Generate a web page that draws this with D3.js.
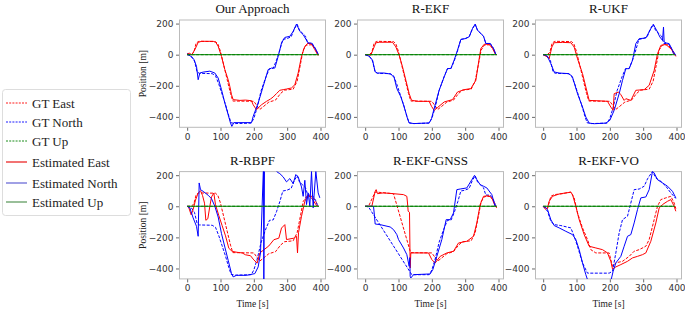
<!DOCTYPE html>
<html>
<head>
<meta charset="utf-8">
<script src="https://cdn.jsdelivr.net/npm/d3@7"></script>
<style>
  body { margin: 0; background: #fff; }
  svg { display: block; }
</style>
</head>
<body>
<div id="chart"></div>
<script>
// tick values and labels
var xTicks = [0, 100, 200, 300, 400];
var yTicks = [200, 0, -200, -400];
var panelTitles = ["Our Approach", "R-EKF", "R-UKF", "R-RBPF", "R-EKF-GNSS", "R-EKF-VO"];
var legendLabels = ["GT East", "GT North", "GT Up", "Estimated East", "Estimated North", "Estimated Up"];

// ground truth, [time s, position m]
var gtEast = [[0,0],[12,0],[20,15],[27,75],[35,86],[85,84],[92,70],[100,20],[110,-70],[120,-160],[130,-250],[137,-298],[200,-300],[210,-330],[218,-352],[228,-335],[245,-305],[265,-292],[280,-250],[292,-228],[318,-222],[330,-170],[340,-60],[348,30],[358,62],[375,64],[385,35],[393,0]];
var gtNorth = [[0,0],[12,-8],[22,-40],[30,-112],[37,-120],[75,-122],[85,-135],[95,-190],[105,-255],[115,-320],[125,-395],[132,-438],[145,-443],[192,-440],[200,-410],[210,-340],[222,-230],[237,-140],[247,-90],[258,-88],[268,-35],[278,30],[287,98],[300,104],[312,115],[322,168],[330,196],[337,157],[347,136],[355,119],[362,72],[375,72],[385,40],[392,0]];
var gtUp = [[0,0],[395,0]];
var estUp = [[0,0],[395,0]];

// Our Approach
var oursEast = [[0,6],[8,10],[13,-3],[23,32],[33,79],[43,86],[78,86],[86,79],[93,54],[103,-11],[113,-96],[123,-161],[128,-204],[133,-257],[138,-289],[158,-294],[175,-292],[193,-296],[198,-322],[208,-354],[213,-343],[223,-322],[238,-300],[250,-285],[258,-272],[268,-250],[278,-229],[288,-225],[298,-221],[313,-214],[323,-193],[333,-118],[343,-11],[353,54],[363,75],[373,69],[383,32],[393,-6]];
var oursNorth = [[0,6],[8,-5],[13,-15],[20,-30],[28,-75],[33,-161],[38,-118],[48,-112],[68,-106],[83,-118],[93,-150],[103,-225],[113,-311],[123,-386],[130,-440],[134,-461],[140,-437],[193,-437],[198,-397],[213,-311],[228,-204],[243,-96],[253,-86],[263,-86],[273,-11],[283,75],[293,111],[308,118],[318,150],[328,197],[338,150],[348,129],[363,75],[373,75],[383,43],[393,6]];

// R-EKF
var ekfEast = [[0,0],[17,-3],[27,50],[32,76],[42,80],[82,80],[92,50],[102,-3],[112,-78],[122,-164],[132,-250],[139,-293],[157,-300],[192,-300],[199,-332],[207,-358],[217,-340],[237,-304],[262,-289],[277,-240],[297,-225],[317,-218],[332,-165],[342,-26],[347,39],[357,67],[372,67],[382,40],[392,-3]];
var ekfNorth = [[0,0],[12,-10],[22,-35],[30,-110],[37,-118],[57,-118],[77,-125],[87,-147],[95,-218],[107,-271],[117,-336],[127,-411],[132,-439],[147,-443],[192,-439],[199,-411],[207,-346],[222,-228],[237,-143],[247,-89],[257,-89],[267,-35],[277,29],[287,98],[302,104],[312,115],[322,168],[330,196],[337,157],[347,136],[355,119],[362,72],[375,72],[385,40],[392,1]];

// R-UKF
var ukfEast = [[0,0],[13,-15],[18,-26],[26,49],[33,77],[58,79],[83,77],[93,49],[103,-26],[118,-122],[128,-208],[138,-294],[178,-298],[193,-300],[203,-337],[210,-358],[213,-251],[226,-240],[233,-257],[243,-294],[248,-283],[263,-294],[278,-229],[303,-225],[318,-197],[333,-101],[343,6],[353,60],[368,66],[388,28],[398,-11]];
var ukfNorth = [[0,0],[10,-4],[16,-26],[23,-58],[33,-111],[48,-118],[78,-122],[88,-144],[103,-251],[118,-337],[128,-401],[138,-440],[153,-444],[188,-440],[200,-422],[213,-358],[228,-251],[238,-165],[248,-90],[258,-90],[268,-36],[278,71],[288,103],[308,107],[323,167],[331,193],[343,146],[350,114],[358,92],[361,178],[363,81],[370,75],[378,71],[388,28],[398,-4]];

// R-RBPF
var rbpfEast = [[0,0],[5,-10],[12,-55],[18,-20],[25,40],[33,85],[40,100],[46,70],[52,20],[56,-90],[62,-80],[68,0],[73,60],[80,85],[85,10],[95,-60],[105,-125],[115,-190],[125,-270],[135,-290],[150,-296],[165,-300],[175,-312],[190,-318],[200,-345],[210,-365],[218,-300],[230,-280],[245,-255],[260,-215],[275,-205],[283,-140],[293,-118],[298,-214],[320,-205],[328,-193],[331,-300],[334,-170],[343,-64],[353,32],[363,75],[373,54],[383,21],[390,0]];
var rbpfNorth = [[0,0],[8,-10],[18,-75],[28,-129],[33,-193],[36,150],[40,107],[48,96],[63,71],[73,49],[83,0],[93,-69],[103,-176],[113,-262],[123,-347],[133,-433],[138,-454],[148,-444],[178,-444],[203,-433],[213,-390],[220,-300],[229,260],[230,-480],[232,260],[250,300],[270,220],[278,210],[288,189],[298,157],[308,178],[318,146],[326,204],[333,189],[343,124],[348,64],[353,167],[358,11],[363,86],[368,0],[373,225],[378,-10],[386,225],[393,86],[398,54]];

// R-EKF-GNSS
var gnssEast = [[0,0],[20,0],[30,96],[33,107],[37,81],[55,86],[85,81],[115,75],[125,64],[127,21],[129,-32],[133,-39],[135,-397],[137,-300],[145,-300],[190,-300],[200,-343],[210,-365],[225,-322],[245,-300],[265,-289],[280,-236],[305,-225],[325,-193],[335,-107],[345,11],[355,64],[370,68],[380,54],[390,0],[395,-10]];
var gnssNorth = [[0,0],[25,0],[28,-64],[30,-114],[45,-118],[75,-133],[85,-150],[95,-182],[100,-214],[115,-268],[125,-311],[132,-386],[134,-330],[135,-450],[137,-461],[145,-440],[195,-435],[203,-407],[215,-322],[230,-214],[243,-86],[255,-86],[265,-43],[275,107],[285,111],[305,118],[320,171],[328,199],[335,171],[345,139],[355,129],[365,118],[380,75],[390,0]];
var gnssGtEast = [[0,0],[10,0],[30,92],[85,81],[135,-289],[137,-298],[200,-300],[210,-330],[218,-352],[228,-335],[245,-305],[265,-292],[280,-250],[292,-228],[318,-222],[330,-170],[340,-60],[348,30],[358,62],[375,64],[385,35],[393,0]];
var gnssGtNorth = [[0,0],[10,-4],[140,-440],[192,-440],[200,-410],[210,-340],[222,-230],[237,-140],[247,-90],[258,-88],[268,-35],[278,30],[287,98],[300,104],[312,115],[322,168],[330,196],[337,157],[347,136],[355,119],[362,72],[375,72],[385,40],[392,0]];

// R-EKF-VO
var voEast = [[0,0],[8,-21],[13,-10],[18,32],[28,64],[48,79],[68,86],[83,90],[88,75],[98,0],[108,-86],[123,-182],[138,-257],[158,-268],[178,-279],[193,-300],[203,-354],[208,-403],[218,-390],[233,-375],[253,-354],[268,-332],[283,-322],[298,-311],[308,-300],[323,-225],[338,-107],[348,-11],[358,11],[373,32],[383,43],[393,0],[398,-32]];
var voNorth = [[0,0],[8,-8],[13,-21],[23,-86],[33,-124],[48,-139],[68,-161],[88,-182],[98,-214],[108,-279],[118,-364],[128,-440],[133,-472],[203,-480],[210,-418],[218,-364],[233,-322],[243,-257],[253,-193],[263,-182],[273,-107],[283,-21],[293,54],[308,60],[318,107],[328,225],[333,214],[343,171],[358,150],[373,129],[388,96],[398,54]];
var voGtEast = [[0,0],[13,-15],[23,64],[33,75],[58,81],[83,92],[93,54],[103,-43],[118,-139],[133,-214],[143,-279],[158,-300],[198,-300],[208,-386],[218,-364],[238,-354],[258,-322],[273,-289],[288,-279],[308,-257],[318,-214],[333,-86],[343,0],[353,43],[368,54],[383,64],[393,21],[398,-15]];
var voGtNorth = [[0,0],[13,-32],[23,-96],[33,-118],[53,-124],[83,-139],[93,-193],[103,-257],[118,-364],[133,-430],[198,-430],[208,-418],[218,-300],[228,-171],[238,-86],[253,-64],[263,21],[273,107],[288,111],[303,129],[313,176],[328,225],[338,182],[353,161],[368,129],[383,86],[398,50]];

// panel table built from the arrays above
var panels = [
  { title: panelTitles[0], gtE: gtEast, gtN: gtNorth, e: oursEast, n: oursNorth },
  { title: panelTitles[1], gtE: gtEast, gtN: gtNorth, e: ekfEast, n: ekfNorth },
  { title: panelTitles[2], gtE: gtEast, gtN: gtNorth, e: ukfEast, n: ukfNorth },
  { title: panelTitles[3], gtE: gtEast, gtN: gtNorth, e: rbpfEast, n: rbpfNorth },
  { title: panelTitles[4], gtE: gnssGtEast, gtN: gnssGtNorth, e: gnssEast, n: gnssNorth },
  { title: panelTitles[5], gtE: voGtEast, gtN: voGtNorth, e: voEast, n: voNorth }
];

var width = 685, height = 310;
var colLeft = [179.5, 357.5, 535.5];
var rowTop = [20, 171.6];
var pw = 146, ph = 107.3;

var svg = d3.select('#chart').append('svg')
    .attr('width', width)
    .attr('height', height);

var x = d3.scaleLinear().domain([-23, 415]).range([0, pw]);
var y = d3.scaleLinear().domain([-467, 223]).range([ph, 0]);

var line = d3.line().x(function(d) { return x(d[0]); }).y(function(d) { return y(d[1]); });

var red = '#ff0000', blue = '#0000ff', green = '#008000';

panels.forEach(function(p, i) {
    var col = i % 3, row = Math.floor(i / 3);
    var g = svg.append('g')
        .attr('transform', 'translate(' + colLeft[col] + ',' + rowTop[row] + ')');

    g.append('clipPath').attr('id', 'clip' + i)
        .append('rect').attr('width', pw).attr('height', ph);

    // axes
    var xAxis = g.append('g')
        .attr('transform', 'translate(0,' + ph + ')')
        .call(d3.axisBottom(x).tickValues(xTicks).tickSize(3.5).tickPadding(2.5));
    var yAxis = g.append('g')
        .call(d3.axisLeft(y).tickValues(yTicks).tickSize(3.5).tickPadding(2.5)
            .tickFormat(function(d) { return d < 0 ? '\u2212' + Math.abs(d) : d; }));
    [xAxis, yAxis].forEach(function(a) {
        a.select('.domain').remove();
        a.selectAll('line').attr('stroke', '#444').attr('stroke-width', 0.8);
        a.selectAll('text')
            .style('font-family', 'DejaVu Sans')
            .style('font-size', '9px')
            .attr('fill', '#333');
    });

    // frame
    g.append('rect')
        .attr('width', pw).attr('height', ph)
        .attr('fill', 'none')
        .attr('stroke', '#bbbbbb')
        .attr('stroke-width', 1);

    var plot = g.append('g').attr('clip-path', 'url(#clip' + i + ')');

    var series = [
        { d: p.gtE, c: red, dash: true },
        { d: p.gtN, c: blue, dash: true },
        { d: gtUp, c: green, dash: true },
        { d: p.e, c: red, dash: false },
        { d: p.n, c: blue, dash: false },
        { d: estUp, c: green, dash: false }
    ];
    series.forEach(function(s) {
        plot.append('path')
            .attr('d', line(s.d))
            .attr('fill', 'none')
            .attr('stroke', s.c)
            .attr('stroke-width', 1)
            .attr('stroke-linejoin', 'round')
            .attr('stroke-dasharray', s.dash ? '3,1.5' : null);
    });

    // title
    g.append('text')
        .attr('x', pw / 2).attr('y', -7)
        .attr('text-anchor', 'middle')
        .style('font-family', 'Liberation Serif')
        .style('font-size', '13px')
        .attr('fill', '#111')
        .text(p.title);

    if (col === 0) {
        g.append('text')
            .attr('transform', 'translate(-34,' + (ph / 2) + ') rotate(-90)')
            .attr('text-anchor', 'middle')
            .style('font-family', 'Liberation Serif')
            .style('font-size', '9.5px')
            .attr('fill', '#222')
            .text('Position [m]');
    }
    if (row === 1) {
        g.append('text')
            .attr('x', pw / 2).attr('y', ph + 28)
            .attr('text-anchor', 'middle')
            .style('font-family', 'Liberation Serif')
            .style('font-size', '9.5px')
            .attr('fill', '#222')
            .text('Time [s]');
    }
});

// legend
var legendColors = [red, blue, green, '#ee4444', '#8080dd', '#77aa77'];
var legendY = [103, 122, 141, 162, 183, 202];
var legend = svg.append('g');
legend.append('rect')
    .attr('x', 2.5).attr('y', 89.5)
    .attr('width', 128).attr('height', 126)
    .attr('rx', 3)
    .attr('fill', '#fff')
    .attr('stroke', '#dddddd');

var item = legend.selectAll('.item')
    .data(legendLabels)
    .enter().append('g')
    .attr('class', 'item')
    .attr('transform', function(d, i) { return 'translate(0,' + legendY[i] + ')'; });

item.append('line')
    .attr('x1', 6).attr('x2', 27)
    .attr('stroke', function(d, i) { return legendColors[i]; })
    .attr('stroke-width', function(d, i) { return i < 3 ? 0.9 : 1.5; })
    .attr('stroke-dasharray', function(d, i) { return i < 3 ? '2,1.2' : null; });

item.append('text')
    .attr('x', 32).attr('y', 4.5)
    .style('font-family', 'Liberation Serif')
    .style('font-size', '13px')
    .attr('fill', '#222')
    .text(function(d) { return d; });
</script>
</body>
</html>
